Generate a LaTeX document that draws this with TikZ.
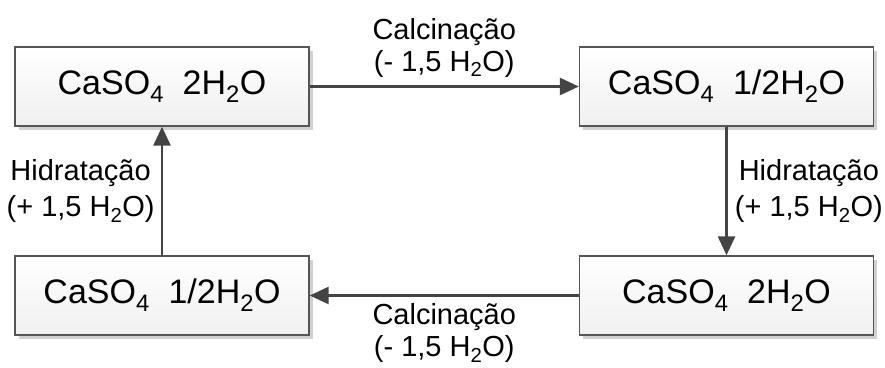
\documentclass[tikz,border=0pt]{standalone}
\usepackage{fontspec}
\setmainfont{Liberation Sans}
\usetikzlibrary{shadows,arrows.meta}
\definecolor{linec}{HTML}{444444}
\definecolor{boxc}{HTML}{555555}
\tikzset{
  box/.style={draw=boxc, line width=1.4pt, rectangle, minimum width=294pt, minimum height=79pt,
    top color=white, bottom color=black!6, inner sep=0pt,
    drop shadow={shadow xshift=3.5pt, shadow yshift=-3.5pt, fill=black!18, opacity=1},
    font=\fontsize{34}{36}\selectfont},
  conn/.style={draw=linec, line width=2.8pt, -{Triangle[length=19pt,width=17pt]}},
  hlab/.style={align=center, inner sep=0pt, font=\fontsize{29}{32}\selectfont},
  vlab/.style={align=center, inner sep=0pt, font=\fontsize{29}{36}\selectfont}
}
\newcommand{\cas}[1]{CaSO\textsubscript{4}\hspace{0.55em}#1H\textsubscript{2}O}
\begin{document}
\begin{tikzpicture}[x=1pt,y=-1pt]
\useasboundingbox (0,0) rectangle (885,367);
\node[box] (a) at (162,86.5) {\cas{2}};
\node[box] (b) at (726.5,86.5) {\cas{1/2}};
\node[box] (c) at (726.5,295.5) {\cas{2}};
\node[box] (d) at (162,295.5) {\cas{1/2}};
\draw[conn] (a.east) -- node[hlab, above=8pt] {Calcinação\\(- 1,5 H\textsubscript{2}O)} (b.west);
\draw[conn] (b.south) -- node[vlab, right=7pt] {Hidratação\\(+ 1,5 H\textsubscript{2}O)} (c.north);
\draw[conn] (c.west) -- node[hlab, below=7pt] {Calcinação\\(- 1,5 H\textsubscript{2}O)} (d.east);
\draw[conn] (d.north) -- node[vlab, left=6pt] {Hidratação\\(+ 1,5 H\textsubscript{2}O)} (a.south);
\end{tikzpicture}
\end{document}
